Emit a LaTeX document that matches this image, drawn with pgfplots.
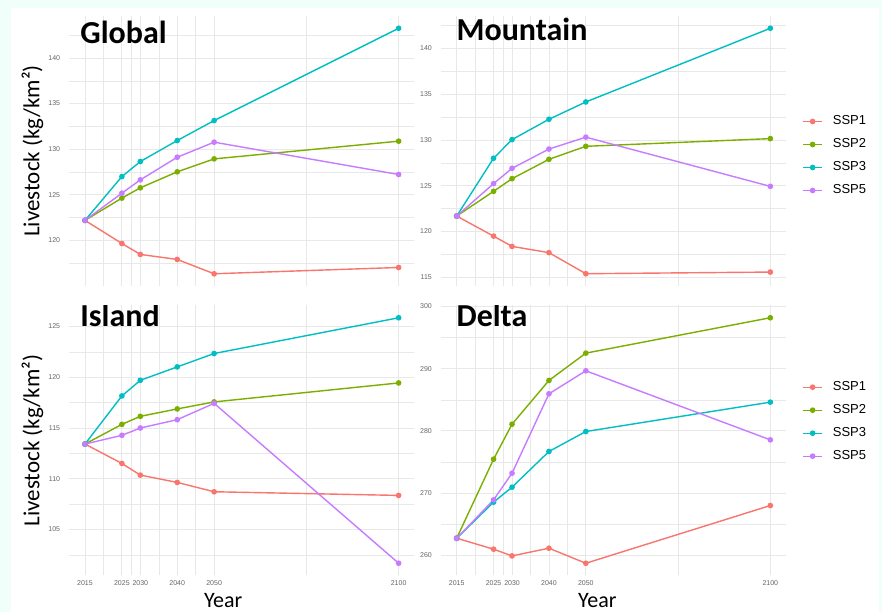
\documentclass[border=0pt]{standalone}
\usepackage{fontspec}
\setmainfont{Carlito}
\newfontfamily\arial{Liberation Sans}
\usepackage{pgfplots}
\pgfplotsset{compat=1.18}
\definecolor{bgc}{RGB}{240,255,250}
\definecolor{gridc}{RGB}{232,232,232}
\definecolor{cA}{HTML}{F8766D}
\definecolor{cB}{HTML}{7CAE00}
\definecolor{cC}{HTML}{00BFC4}
\definecolor{cD}{HTML}{C77CFF}
\tikzset{ttl/.style={anchor=base west, font=\bfseries\fontsize{32}{36}\selectfont}}
\pgfplotsset{
 panel/.style={scale only axis, width=345pt, height=270pt, xmin=2010.75, xmax=2104.25,
  grid=both, major grid style={draw=gridc, line width=0.8pt}, minor grid style={draw=gridc, line width=0.4pt},
  axis line style={draw=none}, major tick length=0pt, minor tick length=0pt,
  xtick={2015,2025,2030,2040,2050,2100}, minor xtick={2020,2027.5,2035,2045,2075},
  /pgf/number format/assume math mode=true, /pgf/number format/1000 sep={},
  tick label style={font=\arial\fontsize{7}{9}\selectfont, text=black!60},
  yticklabel style={inner sep=0pt, xshift=-9pt}, xticklabel style={inner sep=0pt, yshift=-5pt},
  every axis plot/.append style={line width=1.4pt, mark=*, mark size=2.1pt},
  ylabel={Livestock (kg/km²)},
  ylabel style={font=\fontsize{23}{26}\selectfont, at={(axis description cs:-0.107,0.5)}, anchor=center},
 },
 legpanel/.style={
  legend style={draw=none, fill=none, inner sep=0pt, font=\arial\fontsize{13}{15}\selectfont,
    nodes={inner sep=0pt, text height=10pt, text depth=3pt}, row sep=10pt, column sep=10pt},
  legend cell align=left,
  legend image code/.code={\draw[mark repeat=2,mark phase=2] plot coordinates {(0pt,0pt) (9.5pt,0pt) (19pt,0pt)};},
 },
 yr/.style={xlabel={Year}, xlabel style={font=\fontsize{22}{24}\selectfont, anchor=base, yshift=-31.5pt}},
}
\begin{document}
\begin{tikzpicture}
\useasboundingbox (0,0) rectangle (882pt,612pt);
\fill[bgc] (0,0) rectangle (882pt,612pt);
\fill[white] (11pt,0) rectangle (879pt,604pt);
% Global
\begin{axis}[panel, at={(69.3pt,326pt)}, anchor=south west, ymin=115.01, ymax=144.6,
  ytick={120,125,130,135,140}, minor ytick={117.5,122.5,127.5,132.5,137.5,142.5}, xticklabels={,,,,,}]
\addplot[cA] coordinates {(2015,122.2)(2025,119.67)(2030,118.47)(2040,117.92)(2050,116.35)(2100,117.04)};
\addplot[cB] coordinates {(2015,122.2)(2025,124.64)(2030,125.77)(2040,127.52)(2050,128.94)(2100,130.88)};
\addplot[cC] coordinates {(2015,122.2)(2025,127.0)(2030,128.65)(2040,130.95)(2050,133.14)(2100,143.25)};
\addplot[cD] coordinates {(2015,122.2)(2025,125.18)(2030,126.64)(2040,129.12)(2050,130.77)(2100,127.23)};
\node[ttl] at (rel axis cs:0.022,0.899) {Global};
\end{axis}
% Mountain
\begin{axis}[panel, legpanel, at={(441pt,326pt)}, anchor=south west, ymin=114.06, ymax=143.52, ylabel={},
  ytick={115,120,125,130,135,140}, minor ytick={117.5,122.5,127.5,132.5,137.5,142.5}, xticklabels={,,,,,},
  legend style={at={(rel axis cs:1.047,0.4815)}, anchor=west}]
\addplot[cA] coordinates {(2015,121.69)(2025,119.5)(2030,118.38)(2040,117.7)(2050,115.4)(2100,115.58)};
\addplot[cB] coordinates {(2015,121.69)(2025,124.39)(2030,125.77)(2040,127.88)(2050,129.3)(2100,130.14)};
\addplot[cC] coordinates {(2015,121.69)(2025,128.0)(2030,130.03)(2040,132.25)(2050,134.14)(2100,142.18)};
\addplot[cD] coordinates {(2015,121.69)(2025,125.23)(2030,126.9)(2040,129.0)(2050,130.3)(2100,124.93)};
\legend{SSP1,SSP2,SSP3,SSP5}
\node[ttl] at (rel axis cs:0.035,0.909) {Mountain};
\end{axis}
% Island
\begin{axis}[panel, yr, at={(69.3pt,36.5pt)}, anchor=south west, ymin=100.47, ymax=127.07,
  ytick={105,110,115,120,125}, minor ytick={102.5,107.5,112.5,117.5,122.5},
  xlabel style={at={(axis description cs:0.446,0)}}]
\addplot[cA] coordinates {(2015,113.42)(2025,111.51)(2030,110.36)(2040,109.64)(2050,108.72)(2100,108.36)};
\addplot[cB] coordinates {(2015,113.42)(2025,115.36)(2030,116.15)(2040,116.88)(2050,117.57)(2100,119.44)};
\addplot[cC] coordinates {(2015,113.42)(2025,118.16)(2030,119.70)(2040,121.02)(2050,122.34)(2100,125.86)};
\addplot[cD] coordinates {(2015,113.42)(2025,114.28)(2030,115.0)(2040,115.82)(2050,117.43)(2100,101.68)};
\node[ttl] at (rel axis cs:0.022,0.922) {Island};
\end{axis}
% Delta
\begin{axis}[panel, legpanel, yr, at={(441pt,36.5pt)}, anchor=south west, ymin=256.74, ymax=300.15, ylabel={},
  ytick={260,270,280,290,300}, minor ytick={265,275,285,295},
  xlabel style={at={(axis description cs:0.453,0)}},
  legend style={at={(rel axis cs:1.047,0.5696)}, anchor=west}]
\addplot[cA] coordinates {(2015,262.73)(2025,260.97)(2030,259.89)(2040,261.13)(2050,258.71)(2100,267.99)};
\addplot[cB] coordinates {(2015,262.73)(2025,275.44)(2030,281.07)(2040,288.1)(2050,292.49)(2100,298.18)};
\addplot[cC] coordinates {(2015,262.73)(2025,268.53)(2030,270.94)(2040,276.68)(2050,279.89)(2100,284.61)};
\addplot[cD] coordinates {(2015,262.73)(2025,268.9)(2030,273.19)(2040,285.95)(2050,289.65)(2100,278.55)};
\legend{SSP1,SSP2,SSP3,SSP5}
\node[ttl] at (rel axis cs:0.035,0.922) {Delta};
\end{axis}
\end{tikzpicture}
\end{document}
